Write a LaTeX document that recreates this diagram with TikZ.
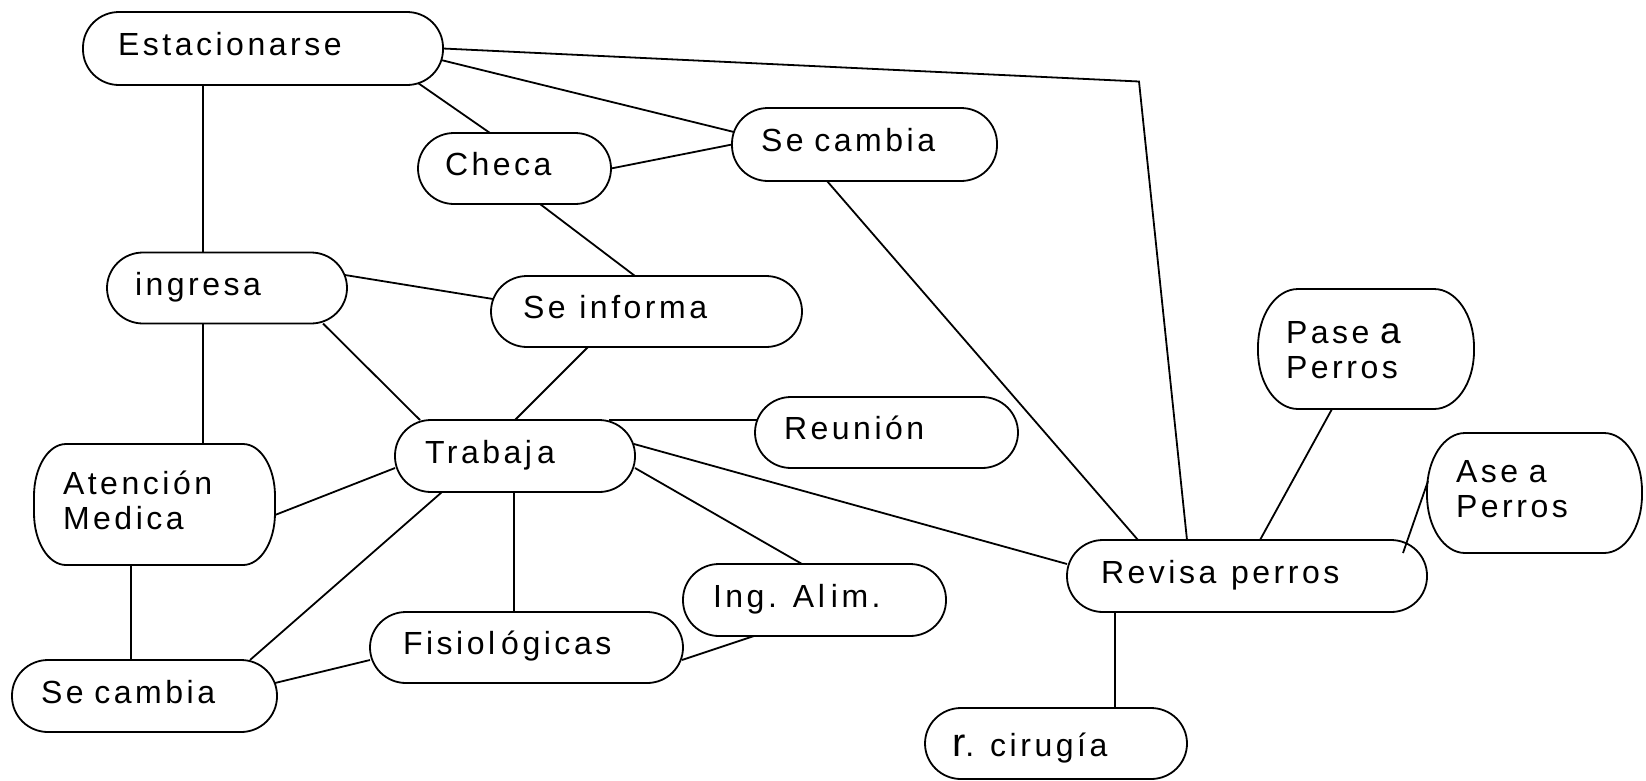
\documentclass[tikz,border=0pt]{standalone}
\usepackage{fontspec}
\newfontfamily\mainfnt[LetterSpace=11]{Liberation Sans}
\tikzset{
  lnk/.style={line width=1.8pt, line join=miter},
  boxline/.style={line width=1.8pt},
  box/.style={rectangle, draw=none, align=left, inner ysep=0pt, outer sep=0pt,
    font=\mainfnt\fontsize{32}{35}\selectfont,
    execute at begin node=\strut, execute at end node=\strut}
}
\newcommand\rbox[3]{%
  \draw[boxline] ([xshift=#2pt]#1.north west) -- ([xshift=-#2pt]#1.north east)
    arc[start angle=90,end angle=0,x radius=#2pt,y radius=#3pt]
    -- ([yshift=#3pt]#1.south east)
    arc[start angle=0,end angle=-90,x radius=#2pt,y radius=#3pt]
    -- ([xshift=#2pt]#1.south west)
    arc[start angle=270,end angle=180,x radius=#2pt,y radius=#3pt]
    -- ([yshift=-#3pt]#1.north west)
    arc[start angle=180,end angle=90,x radius=#2pt,y radius=#3pt] -- cycle;}
\begin{document}
\begin{tikzpicture}[x=1pt,y=1pt]
\useasboundingbox (0,0) rectangle (1646,-780);
% nodes
\node[box, inner xsep=35pt, text width=290pt, minimum height=73pt] (est) at (263,-48.5) {Estacionarse};
\node[box, inner xsep=27pt, text width=139pt, minimum height=71pt] (checa) at (514.5,-168.5) {Checa};
\node[box, inner xsep=29pt, text width=207pt, minimum height=73pt] (sc1) at (864.5,-144.5) {Se cambia};
\node[box, inner xsep=28pt, text width=184pt, minimum height=71pt] (ing) at (227,-288) {ingresa};
\node[box, inner xsep=32pt, text width=247pt, minimum height=71pt] (inf) at (646.5,-311.5) {Se\kern3pt{} informa};
\node[box, inner xsep=28pt, text width=160pt, minimum height=120pt] (pase) at (1366,-349) {\rule{0pt}{34.5pt}Pase {\fontsize{37}{35}\selectfont a}\\Perros};
\node[box, inner xsep=29pt, text width=205pt, minimum height=71pt] (reu) at (886.5,-432.5) {Reunión};
\node[box, inner xsep=30pt, text width=180pt, minimum height=72pt] (trab) at (515,-456) {Trabaj\kern5pt a};
\node[box, inner xsep=29pt, text width=183pt, minimum height=121pt] (aten) at (154.5,-504.5) {Atención\\Medica};
\node[box, inner xsep=29pt, text width=157pt, minimum height=120pt] (ase) at (1534.5,-493) {Ase a\\Perros};
\node[box, inner xsep=34pt, text width=292pt, minimum height=72pt] (rev) at (1247,-576) {Revisa\kern4pt{} perros};
\node[box, inner xsep=30pt, text width=203pt, minimum height=72pt] (ali) at (814.5,-600) {Ing. Al\kern6pt im.};
\node[box, inner xsep=33pt, text width=247pt, minimum height=71pt] (fis) at (526.5,-647.5) {Fisiol\kern6pt ógicas};
\node[box, inner xsep=29pt, text width=207pt, minimum height=72pt] (sc2) at (144.5,-696) {Se cambia};
\node[box, inner xsep=27pt, text width=208pt, minimum height=71pt] (cir) at (1056,-743.5) {\rule{0pt}{36.5pt}{\fontsize{40}{35}\selectfont r}. cirugía};
% outlines
\rbox{est}{36}{35.5}
\rbox{checa}{36}{35.5}
\rbox{sc1}{36}{35.5}
\rbox{ing}{36}{35.5}
\rbox{inf}{36}{35.5}
\rbox{reu}{36}{35.5}
\rbox{trab}{36}{35.5}
\rbox{rev}{36}{35.5}
\rbox{ali}{36}{35.5}
\rbox{fis}{36}{35.5}
\rbox{sc2}{36}{35.5}
\rbox{cir}{36}{35.5}
\rbox{pase}{40}{58}
\rbox{ase}{38}{58}
\rbox{aten}{32}{52}
% connectors
\coordinate (bend) at (1139,-81.5);
\draw[lnk] (est.east) -- (bend) -- ([xshift=-60pt]rev.north);
\draw[lnk] ([shift={(-2pt,-11.5pt)}]est.east) -- ([shift={(2pt,12.5pt)}]sc1.west);
\draw[lnk] ([shift={(155pt,2pt)}]est.south) -- ([xshift=-24.5pt]checa.north);
\draw[lnk] ([xshift=-60pt]est.south) -- ([xshift=-24pt]ing.north);
\draw[lnk] (checa.east) -- (sc1.west);
\draw[lnk] ([xshift=25.5pt]checa.south) -- ([xshift=-11.5pt]inf.north);
\draw[lnk] ([xshift=-37.5pt]sc1.south) -- ([xshift=-109pt]rev.north);
\draw[lnk] ([shift={(-2pt,13pt)}]ing.east) -- ([shift={(2pt,12.5pt)}]inf.west);
\draw[lnk] ([xshift=96pt]ing.south) -- ([xshift=-95pt]trab.north);
\draw[lnk] ([xshift=-24pt]ing.south) -- ([xshift=48.5pt]aten.north);
\draw[lnk] ([xshift=-58.5pt]inf.south) -- (trab.north);
\draw[lnk] ([xshift=94pt]trab.north) -- ([shift={(2pt,12.5pt)}]reu.west);
\draw[lnk] ([shift={(-1pt,12pt)}]trab.east) -- ([yshift=12pt]rev.west);
\draw[lnk] ([yshift=-12pt]trab.east) -- ([xshift=-12.5pt]ali.north);
\draw[lnk] ([xshift=-1pt]trab.south) -- ([xshift=-12.5pt]fis.north);
\draw[lnk] ([yshift=-12pt]trab.west) -- ([yshift=-10.5pt]aten.east);
\draw[lnk] ([xshift=-73pt]trab.south) -- ([xshift=105.5pt]sc2.north);
\draw[lnk] ([xshift=-23.5pt]aten.south) -- ([xshift=-13.5pt]sc2.north);
\draw[lnk] ([shift={(-2pt,13pt)}]sc2.east) -- ([yshift=-12.5pt]fis.west);
\draw[lnk] ([shift={(-1pt,-12.5pt)}]fis.east) -- ([xshift=-60.5pt]ali.south);
\draw[lnk] ([xshift=13pt]rev.north) -- ([xshift=-34pt]pase.south);
\draw[lnk] ([shift={(-24pt,-13pt)}]rev.north east) -- ([shift={(1pt,12pt)}]ase.west);
\draw[lnk] ([xshift=-132pt]rev.south) -- ([xshift=59pt]cir.north);
\end{tikzpicture}
\end{document}
